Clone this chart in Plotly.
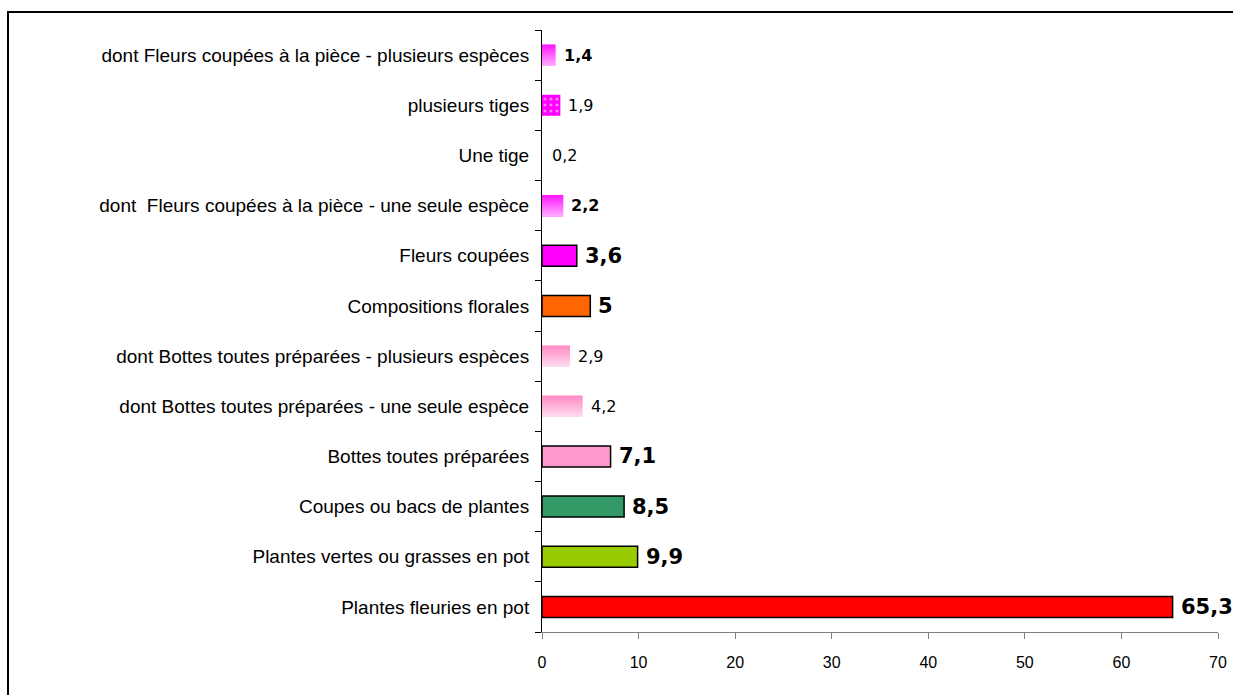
import plotly.graph_objects as go

# Categories listed from the bottom of the chart to the top
categories = [
    "Plantes fleuries en pot",
    "Plantes vertes ou grasses en pot",
    "Coupes ou bacs de plantes",
    "Bottes toutes préparées",
    "dont Bottes toutes préparées - une seule espèce",
    "dont Bottes toutes préparées - plusieurs espèces",
    "Compositions florales",
    "Fleurs coupées",
    "dont\u00a0 Fleurs coupées à la pièce - une seule espèce",
    "Une tige",
    "plusieurs tiges",
    "dont Fleurs coupées à la pièce - plusieurs espèces",
]
values = [65.3, 9.9, 8.5, 7.1, 4.2, 2.9, 5, 3.6, 2.2, 0.2, 1.9, 1.4]

# Fill style per bar: solid colour, vertical gradient (top -> bottom), dotted pattern or none
fill_kind = ["solid", "solid", "solid", "solid", "gradient", "gradient",
             "solid", "solid", "gradient", "none", "dots", "gradient"]
solid_colors = ["#FF0000", "#99CC00", "#339966", "#FF99CC", None, None,
                "#FF6600", "#FF00FF", None, None, "#FF00FF", None]
gradient_stops = [None, None, None, None, ("#FF8CC6", "#FFD9EC"), ("#FF8CC6", "#FFD9EC"),
                  None, None, ("#FF1AFF", "#FFA6FF"), None, None, ("#FF1AFF", "#FFA6FF")]
# Value label style: "big" bold, "small_bold", "small"
label_style = ["big", "big", "big", "big", "small", "small",
               "big", "big", "small_bold", "small", "small", "small_bold"]

BAR_W = 0.42
N_STRIPES = 14


def hex_to_rgb(h):
    h = h.lstrip("#")
    return tuple(int(h[i:i + 2], 16) for i in (0, 2, 4))


def mix(c0, c1, t):
    a, b = hex_to_rgb(c0), hex_to_rgb(c1)
    return "rgb(%d,%d,%d)" % tuple(round(a[i] + (b[i] - a[i]) * t) for i in range(3))


def fmt(v):
    return ("%g" % v).replace(".", ",")


fig = go.Figure()

# Solid bars with black outline
idx = [i for i, k in enumerate(fill_kind) if k == "solid"]
fig.add_trace(go.Bar(
    orientation="h",
    y=[categories[i] for i in idx],
    x=[values[i] for i in idx],
    width=BAR_W,
    marker=dict(color=[solid_colors[i] for i in idx],
                line=dict(color="#000000", width=1.5)),
    hoverinfo="skip", showlegend=False,
))

# Dotted bar
idx = [i for i, k in enumerate(fill_kind) if k == "dots"]
fig.add_trace(go.Bar(
    orientation="h",
    y=[categories[i] for i in idx],
    x=[values[i] for i in idx],
    width=BAR_W,
    marker=dict(color=[solid_colors[i] for i in idx],
                line=dict(width=0),
                pattern=dict(shape=".", fillmode="overlay", fgcolor="#FFFFFF",
                             size=6, solidity=0.22)),
    hoverinfo="skip", showlegend=False,
))

# Bar with no visible fill
idx = [i for i, k in enumerate(fill_kind) if k == "none"]
fig.add_trace(go.Bar(
    orientation="h",
    y=[categories[i] for i in idx],
    x=[values[i] for i in idx],
    width=BAR_W,
    marker=dict(color="rgba(255,255,255,0)", line=dict(width=0)),
    hoverinfo="skip", showlegend=False,
))

# Gradient bars built from thin horizontal stripes, top stripe first
idx = [i for i, k in enumerate(fill_kind) if k == "gradient"]
sw = BAR_W / N_STRIPES
for k in range(N_STRIPES):
    t = k / (N_STRIPES - 1)
    fig.add_trace(go.Bar(
        orientation="h",
        y=[categories[i] for i in idx],
        x=[values[i] for i in idx],
        width=sw * 1.08,
        offset=BAR_W / 2 - (k + 1) * sw,
        marker=dict(color=[mix(gradient_stops[i][0], gradient_stops[i][1], t) for i in idx],
                    line=dict(width=0)),
        hoverinfo="skip", showlegend=False,
    ))

# Value labels
label_fonts = {
    "big": dict(family="DejaVu Sans", size=21, color="#000000", weight="bold"),
    "small_bold": dict(family="DejaVu Sans", size=16, color="#000000", weight="bold"),
    "small": dict(family="DejaVu Sans", size=16, color="#000000"),
}
for cat, v, st in zip(categories, values, label_style):
    fig.add_annotation(
        x=v, y=cat, text=fmt(v), showarrow=False,
        xanchor="left", yanchor="middle", xshift=6,
        font=label_fonts[st],
    )

W, H = 1233, 695
ML, MR, MT, MB = 542, 15, 30, 63
pw, ph = W - ML - MR, H - MT - MB

# Outer frame
fig.add_shape(
    type="rect", xref="paper", yref="paper",
    x0=(8 - ML) / pw, x1=(W + 10 - ML) / pw,
    y0=(H - MB - (H + 10)) / ph, y1=(H - MB - 12) / ph,
    line=dict(color="#000000", width=2), fillcolor="rgba(0,0,0,0)", layer="below",
)

fig.update_layout(
    width=W, height=H,
    margin=dict(l=ML, r=MR, t=MT, b=MB, pad=0, autoexpand=False),
    barmode="overlay",
    plot_bgcolor="#FFFFFF", paper_bgcolor="#FFFFFF",
    font=dict(family="Liberation Sans, Arial, sans-serif", color="#000000"),
    xaxis=dict(
        range=[0, 70], tickmode="linear", tick0=0, dtick=10,
        showgrid=False, zeroline=False, automargin=False,
        showline=True, linecolor="#808080", linewidth=1,
        ticks="outside", ticklen=6, tickcolor="#808080",
        tickfont=dict(size=16, color="#000000"),
        ticklabelstandoff=10,
        fixedrange=True,
    ),
    yaxis=dict(
        type="category", categoryorder="array", categoryarray=categories,
        showgrid=False, zeroline=False, automargin=False,
        showline=True, linecolor="#000000", linewidth=1,
        ticks="outside", ticklen=6, tickcolor="#000000", tickson="boundaries",
        tickfont=dict(size=19, color="#000000"),
        ticklabelstandoff=8,
        fixedrange=True,
    ),
)

fig.write_html("out.html", config={"displayModeBar": False})
